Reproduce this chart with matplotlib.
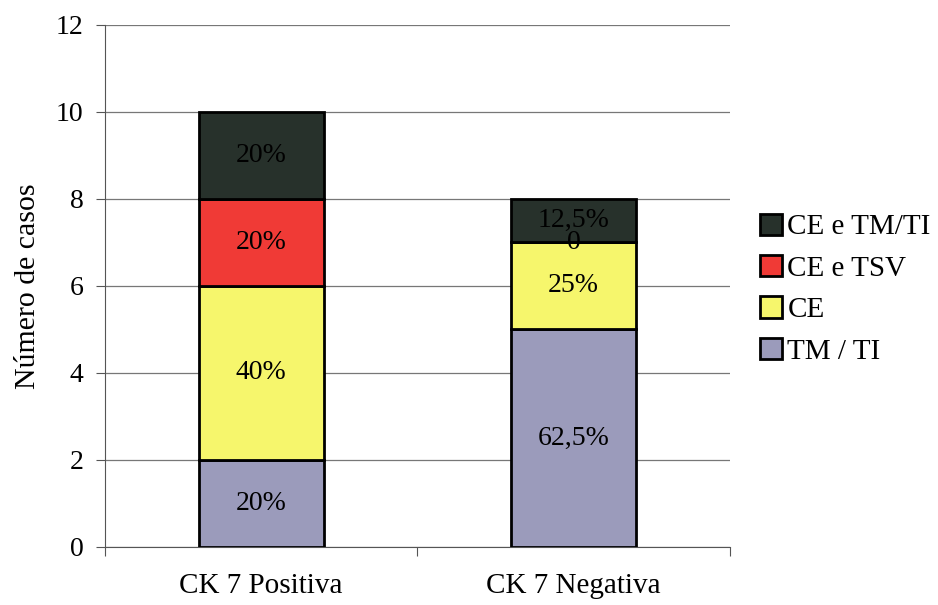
import numpy as np
import matplotlib
matplotlib.use("Agg")
import matplotlib.pyplot as plt

plt.rcParams['font.family'] = ['Liberation Serif', 'DejaVu Serif']

categorias = ['CK 7 Positiva', 'CK 7 Negativa']
series = ['TM / TI', 'CE', 'CE e TSV', 'CE e TM/TI']
valores = {
    'TM / TI':    [2, 5],
    'CE':         [4, 2],
    'CE e TSV':   [2, 0],
    'CE e TM/TI': [2, 1],
}
cores = {
    'TM / TI':    '#9b9bbb',
    'CE':         '#f6f66c',
    'CE e TSV':   '#f03a36',
    'CE e TM/TI': '#27312b',
}


def fmt_pct(v):
    s = ('%.1f' % v).rstrip('0').rstrip('.')
    return s.replace('.', ',') + '%'


fig = plt.figure(figsize=(9.38, 6.05), dpi=100)
ax = fig.add_axes([0.112, 0.096, 0.666, 0.863])

x = np.arange(len(categorias))
totais = np.sum([valores[s] for s in series], axis=0)
base = np.zeros(len(categorias))
handles = []
for s in series:
    v = np.array(valores[s], dtype=float)
    h = ax.bar(x, v, 0.4, bottom=base, color=cores[s], edgecolor='black',
               linewidth=2.0, label=s, zorder=3)
    handles.append(h)
    for i in range(len(x)):
        ax.text(x[i], base[i] + v[i] / 2, fmt_pct(v[i] / totais[i] * 100) if v[i] else '0',
                ha='center', va='center', fontsize=20, color='black', zorder=4)
    base += v

ax.set_xlim(-0.5, 1.5)
ax.set_ylim(0, 12)
ax.set_yticks(range(0, 13, 2))
ax.set_xticks([-0.5, 0.5, 1.5])
ax.set_xticklabels([])
ax.set_xticks(x, minor=True)
ax.set_xticklabels(categorias, minor=True)
ax.tick_params(axis='x', which='minor', length=0, pad=19, labelsize=21)
ax.tick_params(axis='x', which='major', length=6.5, direction='out', color='#555555')
ax.tick_params(axis='y', length=6.5, direction='out', color='#555555', labelsize=20, pad=9)
ax.grid(axis='y', color='#777777', linewidth=0.9, zorder=0)
for sp in ['top', 'right']:
    ax.spines[sp].set_visible(False)
ax.spines['left'].set_color('#555555')
ax.spines['bottom'].set_color('#555555')
ax.set_ylabel('Número de casos', fontsize=21.5, labelpad=11)

fig.legend(handles[::-1], series[::-1], loc='center left', bbox_to_anchor=(0.810, 0.522),
           frameon=False, fontsize=21, handlelength=0.75, handleheight=0.75,
           handletextpad=0.2, labelspacing=0.5, borderpad=0, borderaxespad=0)

fig.savefig('out.png', dpi=100)
